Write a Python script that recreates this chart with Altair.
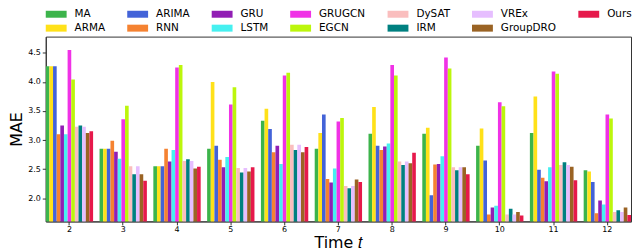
import altair as alt
import pandas as pd

times = [2, 3, 4, 5, 6, 7, 8, 9, 10, 11, 12]
models = ["MA", "ARMA", "ARIMA", "RNN", "GRU", "LSTM", "GRUGCN", "EGCN",
          "DySAT", "IRM", "VREx", "GroupDRO", "Ours"]
colors = ["#3cb44b", "#ffe119", "#4363d8", "#f58231", "#911eb4", "#46f0f0",
          "#f032e6", "#bcf60c", "#fabebe", "#008080", "#e6beff", "#9a6324",
          "#e6194b"]

mae_MA       = [4.27, 2.85, 2.55, 2.85, 3.33, 2.85, 3.11, 3.11, 2.90, 3.12, 2.48]
mae_ARMA     = [4.27, 2.85, 2.55, 4.00, 3.54, 3.12, 3.57, 3.21, 3.20, 3.75, 2.46]
mae_ARIMA    = [4.27, 2.85, 2.55, 2.90, 3.19, 3.44, 2.90, 2.05, 2.65, 2.49, 2.28]
mae_RNN      = [3.10, 2.99, 2.85, 2.66, 2.79, 2.33, 2.83, 2.58, 1.72, 2.35, 1.74]
mae_GRU      = [3.25, 2.80, 2.63, 2.53, 2.90, 2.27, 2.89, 2.59, 1.84, 2.29, 1.96]
mae_LSTM     = [3.10, 2.68, 2.83, 2.71, 2.59, 2.51, 2.94, 2.72, 1.87, 2.53, 1.89]
mae_GRUGCN   = [4.55, 3.36, 4.25, 3.61, 4.11, 3.32, 4.29, 4.42, 3.65, 4.18, 3.44]
mae_EGCN     = [4.04, 3.59, 4.29, 3.91, 4.16, 3.38, 4.11, 4.23, 3.58, 4.14, 3.37]
mae_DySAT    = [3.23, 2.55, 2.64, 2.52, 2.92, 2.21, 2.63, 2.53, 1.72, 2.57, 1.76]
mae_IRM      = [3.25, 2.41, 2.67, 2.44, 2.83, 2.17, 2.57, 2.48, 1.82, 2.62, 1.79]
mae_VREx     = [3.23, 2.55, 2.64, 2.52, 2.92, 2.21, 2.63, 2.53, 1.72, 2.57, 1.76]
mae_GroupDRO = [3.12, 2.41, 2.51, 2.46, 2.79, 2.32, 2.60, 2.53, 1.76, 2.54, 1.84]
mae_Ours     = [3.15, 2.30, 2.54, 2.53, 2.88, 2.28, 2.78, 2.41, 1.70, 2.31, 1.71]

series = [mae_MA, mae_ARMA, mae_ARIMA, mae_RNN, mae_GRU, mae_LSTM, mae_GRUGCN,
          mae_EGCN, mae_DySAT, mae_IRM, mae_VREx, mae_GroupDRO, mae_Ours]

y_ticks = [2.0, 2.5, 3.0, 3.5, 4.0, 4.5]
y_domain = [1.6, 4.78]

# legend laid out row-major with 7 columns, reproducing the column-major order
legend_order = models[0::2] + models[1::2]
legend_colors = [colors[models.index(m)] for m in legend_order]

rows = []
for m, vals in zip(models, series):
    for t, v in zip(times, vals):
        rows.append({"t": t, "model": m, "MAE": v})
df = pd.DataFrame(rows)

FONT = "DejaVu Sans"

chart = alt.Chart(df).mark_bar(clip=True).encode(
    x=alt.X("t:O", scale=alt.Scale(paddingInner=0.12, paddingOuter=0.0),
            axis=alt.Axis(title="Time 𝑡", labelAngle=0, labelFontSize=8,
                          titleFontSize=16, titleFontWeight="normal",
                          titlePadding=1, tickSize=3.5, labelPadding=1)),
    xOffset=alt.XOffset("model:N", scale=alt.Scale(domain=models, paddingInner=0, paddingOuter=0)),
    y=alt.Y("MAE:Q", scale=alt.Scale(domain=y_domain, zero=False, nice=False),
            axis=alt.Axis(title="MAE", values=y_ticks, format=".1f", labelFontSize=8,
                          titleFontSize=16, titleFontWeight="normal", titlePadding=3,
                          tickSize=3.5, labelPadding=2, grid=False)),
    color=alt.Color("model:N", scale=alt.Scale(domain=legend_order, range=legend_colors),
                    legend=alt.Legend(title=None, orient="top", columns=7,
                                      symbolType="M-1,-0.636H2.818V0.636H-1Z", symbolSize=121,
                                      symbolStrokeWidth=0, symbolOpacity=1,
                                      labelFontSize=10.5, labelOffset=18,
                                      columnPadding=22, rowPadding=3, offset=3,
                                      padding=0)),
).properties(
    width=589, height=186, padding={"left": 0, "top": 0, "right": 0, "bottom": 0}
).configure_view(
    stroke="#333333", strokeWidth=1
).configure_axis(
    domainColor="#333333", tickColor="#333333", labelColor="#000000",
    titleColor="#000000", labelFont=FONT, titleFont=FONT
).configure_legend(
    labelFont=FONT, labelColor="#000000"
)

chart.save("out.html", embed_options={"renderer": "svg", "actions": False})
